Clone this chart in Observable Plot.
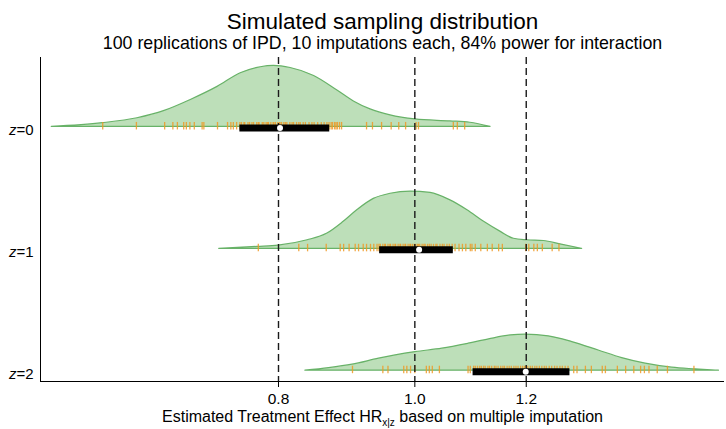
<!DOCTYPE html>
<html>
<head>
<meta charset="utf-8">
<script src="https://cdn.jsdelivr.net/npm/d3@7"></script>
<script src="https://cdn.jsdelivr.net/npm/@observablehq/plot@0.6"></script>
<style>
  html, body { margin: 0; padding: 0; background: #fff; }
  #chart { width: 726px; height: 429px; }
</style>
</head>
<body>
<div id="chart"></div>
<script>
// ---- data ----
const groups = ["z=0", "z=1", "z=2"];
const title = "Simulated sampling distribution";
const subtitle = "100 replications of IPD, 10 imputations each, 84% power for interaction";
const xLabelParts = ["Estimated Treatment Effect HR", "x|z", " based on multiple imputation"];
const refLines = [0.8, 1.0, 1.2];
const xTicks = [0.8, 1.0, 1.2];

// density curves (HR value, density height)
const dens0X = [0.552, 0.600, 0.635, 0.664, 0.693, 0.724, 0.752, 0.777, 0.794, 0.816, 0.848, 0.881, 0.905, 0.930, 0.961, 1.001, 1.060, 1.095, 1.132];
const dens0Y = [0.00, 0.25, 0.58, 1.07, 1.80, 2.67, 3.58, 3.98, 4.07, 3.93, 3.40, 2.43, 1.70, 1.17, 0.77, 0.50, 0.37, 0.28, 0.00];
const dens1X = [0.726, 0.773, 0.800, 0.839, 0.866, 0.890, 0.910, 0.935, 0.961, 0.993, 1.026, 1.060, 1.090, 1.120, 1.151, 1.176, 1.202, 1.235, 1.269, 1.315];
const dens1Y = [0.00, 0.13, 0.21, 0.57, 1.00, 1.80, 2.57, 3.33, 3.67, 3.82, 3.73, 3.23, 2.57, 1.80, 1.13, 0.67, 0.57, 0.52, 0.30, 0.00];
const dens2X = [0.836, 0.869, 0.903, 0.943, 0.969, 1.001, 1.046, 1.092, 1.129, 1.170, 1.199, 1.245, 1.294, 1.351, 1.404, 1.459, 1.524, 1.583, 1.645];
const dens2Y = [0.00, 0.17, 0.40, 0.80, 1.02, 1.24, 1.47, 1.80, 2.09, 2.35, 2.40, 2.29, 1.91, 1.35, 0.84, 0.47, 0.20, 0.09, 0.00];

// replicate estimates (rug)
const rug0 = [0.600, 0.634, 0.664, 0.673, 0.678, 0.685, 0.688, 0.692, 0.697, 0.706, 0.708, 0.724, 0.736, 0.740, 0.743, 0.747, 0.751,
  0.753, 0.756, 0.757, 0.761, 0.763, 0.766, 0.768, 0.772, 0.774, 0.775, 0.779, 0.781, 0.784, 0.786, 0.787, 0.790, 0.793, 0.794, 0.796, 0.799,
  0.801, 0.802, 0.804, 0.807, 0.809, 0.811, 0.815, 0.818, 0.820, 0.824, 0.827, 0.829, 0.833, 0.836, 0.841, 0.845, 0.848, 0.853, 0.858, 0.862,
  0.866, 0.869, 0.872, 0.874, 0.877, 0.879, 0.881, 0.884, 0.887,
  0.924, 0.933, 0.947, 0.962, 0.974, 0.985, 1.002, 1.006, 1.065, 1.072, 1.085];
const rug1 = [0.774, 0.827, 0.839, 0.865, 0.885, 0.890, 0.898, 0.907, 0.912, 0.919, 0.924, 0.930, 0.935, 0.940,
  0.943, 0.945, 0.949, 0.952, 0.953, 0.957, 0.960, 0.961, 0.965, 0.968, 0.969, 0.973, 0.976, 0.977, 0.981, 0.984, 0.985, 0.989, 0.992, 0.993,
  0.996, 0.999, 1.001, 1.004, 1.006, 1.008, 1.012, 1.015, 1.017, 1.021, 1.024, 1.027, 1.031, 1.035, 1.037, 1.042, 1.046, 1.049, 1.054, 1.058,
  1.063, 1.068,
  1.075, 1.081, 1.087, 1.095, 1.098, 1.104, 1.114, 1.126, 1.135, 1.147, 1.154, 1.199, 1.205, 1.215, 1.222, 1.232, 1.252, 1.266];
const rug2 = [0.903, 0.949, 0.957, 0.982, 0.987, 0.993, 1.000, 1.019, 1.024, 1.029, 1.041, 1.091, 1.095,
  1.101, 1.104, 1.108, 1.112, 1.115, 1.119, 1.122, 1.127, 1.130, 1.134, 1.139, 1.142, 1.146, 1.151, 1.155, 1.158, 1.163, 1.167, 1.171, 1.176,
  1.180, 1.184, 1.189, 1.193, 1.197, 1.199, 1.203, 1.208, 1.212, 1.217, 1.221, 1.226, 1.231, 1.236, 1.240, 1.246, 1.251, 1.257, 1.262, 1.268,
  1.273, 1.279, 1.285,
  1.297, 1.304, 1.322, 1.335, 1.359, 1.366, 1.393, 1.412, 1.431, 1.447, 1.456, 1.467, 1.487, 1.512, 1.579];

// interquartile range and median
const q1 = [0.751, 0.944, 1.100];
const med = [0.802, 1.007, 1.199];
const q3 = [0.870, 1.065, 1.289];

// ---- layout ----
const BASE = 0.72, SPACING = 8.125;
const baseOf = i => BASE + (groups.length - 1 - i) * SPACING;
const xDomain = [0.5419, 1.660];
const yDomain = [0, 21.6];

const densX = [dens0X, dens1X, dens2X];
const densY = [dens0Y, dens1Y, dens2Y];
const rugs = [rug0, rug1, rug2];

const densityRows = groups.flatMap((g, i) => densX[i].map((x, j) => ({group: g, hr: x, base: baseOf(i), top: baseOf(i) + densY[i][j]})));
const rugRows = groups.flatMap((g, i) => rugs[i].map(x => ({group: g, hr: x, base: baseOf(i)})));
const boxRows = groups.map((g, i) => ({group: g, q1: q1[i], med: med[i], q3: q3[i], base: baseOf(i)}));
const yTicks = groups.map((g, i) => baseOf(i));

const font = "'Liberation Sans', Arial, Helvetica, sans-serif";

const chart = Plot.plot({
  width: 726,
  height: 429,
  marginLeft: 40,
  marginRight: 2,
  marginTop: 57,
  marginBottom: 48,
  style: {fontFamily: font, fontSize: "15.5px", color: "black", background: "white"},
  x: {type: "log", domain: xDomain},
  y: {domain: yDomain},
  marks: [
    Plot.areaY(densityRows, {x: "hr", y1: "base", y2: "top", z: "group", fill: "#bddfb9", stroke: "#68b268", strokeWidth: 1.2, curve: "monotone-x"}),
    Plot.ruleX(rugRows, {x: "hr", y1: d => d.base - 0.2, y2: d => d.base + 0.3, stroke: "#ef9a26", strokeOpacity: 0.85, strokeWidth: 1.3}),
    Plot.ruleX(refLines, {stroke: "#1a1a1a", strokeDasharray: "7,4", strokeWidth: 1.4}),
    Plot.ruleY(boxRows, {x1: "q1", x2: "q3", y: "base", stroke: "black", strokeWidth: 7, dy: 1}),
    Plot.dot(boxRows, {x: "med", y: "base", r: 3, fill: "white", dy: 1}),
    Plot.ruleX([xDomain[0]], {stroke: "black", strokeWidth: 1}),
    Plot.ruleY([yDomain[0]], {stroke: "black", strokeWidth: 1}),
    Plot.axisX({ticks: xTicks, tickFormat: d => d.toFixed(1), tickSize: 6, tickPadding: 5, label: null, fontSize: 15.5, ariaLabel: "x-axis"}),
    Plot.axisY({ticks: yTicks, tickFormat: d => groups[yTicks.indexOf(d)], tickSize: 0, tickPadding: 7, label: null, fontSize: 15, dy: 3, ariaLabel: "y-axis"}),
    Plot.text([title], {text: d => d, frameAnchor: "top", lineAnchor: "bottom", dy: -28.5, fontSize: 22.5}),
    Plot.text([subtitle], {text: d => d, frameAnchor: "top", lineAnchor: "bottom", dy: -8.5, fontSize: 17.8}),
    Plot.text([xLabelParts.join("")], {text: d => d, frameAnchor: "bottom", lineAnchor: "bottom", dy: 40.3, fontSize: 16})
  ]
});

document.getElementById("chart").appendChild(chart);

const svg = d3.select(chart);
const xTickLabels = xTicks.map(d => d.toFixed(1));
svg.selectAll("text").each(function () {
  const t = this.textContent;
  const sel = d3.select(this);
  if (groups.includes(t)) {
    sel.style("font-size", "15px");
    sel.text(null);
    sel.append("tspan").attr("font-style", "italic").text(t.slice(0, 1));
    sel.append("tspan").text(t.slice(1));
  } else if (xTickLabels.includes(t)) {
    sel.style("font-size", "15.5px");
  } else if (t === xLabelParts.join("")) {
    sel.text(null);
    sel.append("tspan").text(xLabelParts[0]);
    sel.append("tspan").attr("font-size", 10).attr("dy", 4).text(xLabelParts[1]);
    sel.append("tspan").attr("dy", -4).text(xLabelParts[2]);
  }
});
</script>
</body>
</html>
